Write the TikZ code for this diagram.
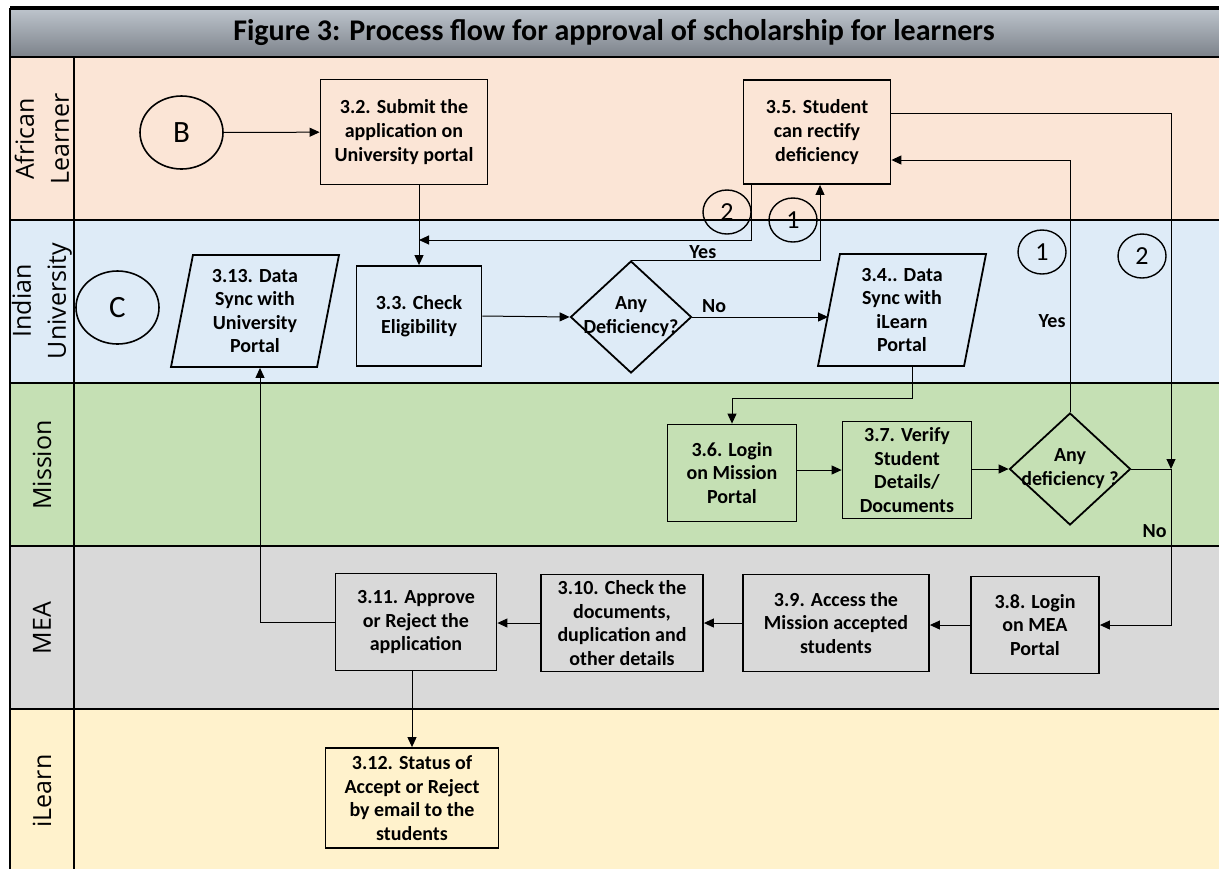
\documentclass[tikz,border=0pt]{standalone}
\usepackage{fontspec}
\setmainfont{Carlito}
\newfontfamily\lanefont{Open Sans}
\usetikzlibrary{shapes.geometric,arrows.meta,calc}

\definecolor{learner}{RGB}{251,229,214}
\definecolor{univ}{RGB}{222,235,247}
\definecolor{mission}{RGB}{197,224,180}
\definecolor{mea}{RGB}{217,217,217}
\definecolor{ilearn}{RGB}{255,242,204}
\definecolor{titletop}{RGB}{190,197,205}
\definecolor{titlebot}{RGB}{124,130,138}

% text of a decision, kept from widening the diamond
\newcommand{\dtext}[1]{\makebox[0pt]{\raisebox{6pt}{\begin{tabular}{@{}c@{}}#1\end{tabular}}}}

\begin{document}
\begin{tikzpicture}[x=0.5pt, y=-0.5pt, >={Triangle[length=5pt,width=4.5pt]},
        box/.style={draw, line width=0.9pt, align=center, inner sep=1.5pt,
            font=\fontsize{10}{11.8}\selectfont\bfseries},
        data/.style={box, trapezium, trapezium left angle=76, trapezium right angle=104,
            trapezium stretches body, minimum height=56pt, minimum width=84pt, inner sep=1pt},
        dec/.style={draw, diamond, line width=0.9pt, minimum width=60.5pt, minimum height=56pt,
            inner sep=0pt, font=\fontsize{10}{11.8}\selectfont\bfseries},
        offpage/.style={draw, ellipse, line width=0.8pt, minimum width=41.5pt, minimum height=36.5pt,
            inner sep=0pt, font=\fontsize{15.5}{15.5}\selectfont},
        onpage/.style={draw, ellipse, line width=0.7pt, minimum width=24pt, minimum height=22pt,
            inner sep=0pt, font=\fontsize{13}{13}\selectfont},
        lane/.style={rotate=90, align=center, font=\lanefont\fontsize{12.5}{17.5}\selectfont},
        tag/.style={font=\fontsize{10}{12}\selectfont\bfseries, inner sep=2pt},
        flow/.style={->, line width=0.5pt}]

        \useasboundingbox (0,0) rectangle (1219,869);
        \fill[white] (0,0) rectangle (1219,869);

        % lanes
        \shade[top color=titletop, bottom color=titlebot] (10,8) rectangle (1219,57);
        \fill[learner] (10,57) rectangle (1219,220);
        \fill[univ] (10,220) rectangle (1219,383);
        \fill[mission] (10,383) rectangle (1219,546);
        \fill[mea] (10,546) rectangle (1219,709);
        \fill[ilearn] (10,709) rectangle (1219,869);
        \foreach \y in {57,220,383,546,709}
            \draw[line width=1.2pt] (10,\y) -- (1219,\y);
        \draw[line width=1.6pt] (10,8) -- (1219,8);
        \draw[line width=1pt] (10,8) -- (10,869);
        \draw[line width=1pt] (74,57) -- (74,869);

        \node[font=\fontsize{15}{17}\selectfont\bfseries] (title) at (614,33)
            {Figure 3: Process flow for approval of scholarship for learners};

        \node[lane] (lAL) at (42,139) {African\\Learner};
        \node[lane] (lIU) at (42,301) {Indian\\University};
        \node[lane] (lMI) at (42,465) {Mission};
        \node[lane] (lME) at (42,628) {MEA};
        \node[lane] (lIL) at (42,791) {iLearn};

        % steps
        \node[offpage] (B) at (181.5,132.5) {B};
        \node[box, minimum width=83.5pt, minimum height=52.5pt] (S2) at (404,132)
            {3.2. Submit the\\application on\\University portal};
        \node[box, minimum width=73.5pt, minimum height=52pt] (S5) at (817,132)
            {3.5. Student\\can rectify\\deficiency};
        \node[onpage] (twoA) at (727,212) {2};
        \node[onpage] (oneA) at (793,220) {1};

        \node[offpage] (C) at (117.5,307.5) {C};
        \node[data] (S13) at (255,311) {3.13. Data\\Sync with\\University\\Portal};
        \node[box, minimum width=62.5pt, minimum height=50pt] (S3) at (419,316)
            {3.3. Check\\Eligibility};
        \node[dec] (D1) at (631,317) {\dtext{Any\\Deficiency?}};
        \node[data] (S4) at (902,310) {3.4.. Data\\Sync with\\iLearn\\Portal};
        \node[onpage] (oneB) at (1042,252) {1};
        \node[onpage] (twoB) at (1142,256) {2};

        \node[box, minimum width=64.5pt, minimum height=48.5pt] (S6) at (732,473)
            {3.6. Login\\on Mission\\Portal};
        \node[box, minimum width=64.5pt, minimum height=48.5pt] (S7) at (907,470)
            {3.7. Verify\\Student\\Details/\\Documents};
        \node[dec] (D2) at (1070,469) {\dtext{Any\\deficiency ?}};

        \node[box, minimum width=64pt, minimum height=48.5pt] (S8) at (1035,625)
            {3.8. Login\\on MEA\\Portal};
        \node[box, minimum width=93pt, minimum height=48.5pt] (S9) at (836,623)
            {3.9. Access the\\Mission accepted\\students};
        \node[box, minimum width=81pt, minimum height=48.5pt] (S10) at (622,623)
            {3.10. Check the\\documents,\\duplication and\\other details};
        \node[box, minimum width=80.5pt, minimum height=48.5pt] (S11) at (416,622)
            {3.11. Approve\\or Reject the\\application};
        \node[box, minimum width=86.5pt, minimum height=50pt] (S12) at (412,798)
            {3.12. Status of\\Accept or Reject\\by email to the\\students};

        % connectors
        \coordinate (m2) at (S3.north |- 0,240);
        \coordinate (jn) at (1171,469);

        \draw[flow] (B) -- (S2);
        \draw[flow] (S3.north |- S2.south) -- (S3.north);
        \draw[flow] ($(S5.south west)+(9,0)$) |- (m2);
        \draw[flow] (D1.north) -| node[tag, pos=0.19, above, inner sep=0.5pt] (yesA) {Yes} ($(S5.south)+(3,0)$);
        \draw[flow] (S3.east) -- (D1.west);
        \draw[flow] (D1.east) -- node[tag, pos=0.16, above] (noA) {No} (D1.east -| S4.west);
        \draw[flow] ($(S4.south)+(10,0)$) -- ++(0,32) -| (S6.north);
        \draw[flow] (S6.east |- S7) -- (S7.west);
        \draw[flow] (S7.east |- D2) -- (D2.west);
        \draw[flow] (D2.north) |- node[tag, pos=0.18, left] (yesB) {Yes} ($(S5.east)+(0,28)$);
        \draw[line width=0.5pt] (D2.east) -- (jn);
        \draw[flow] ($(S5.east)+(0,-19)$) -| (jn);
        \draw[flow] (jn) |- node[tag, pos=0.2, left] (noB) {No} (S8.east);
        \draw[flow] (S8.west) -- (S8.west -| S9.east);
        \draw[flow] (S9.west) -- (S9.west -| S10.east);
        \draw[flow] (S10.west) -- (S10.west -| S11.east);
        \draw[flow] (S11.west) -| ($(S13.south)+(5,0)$);
        \draw[flow] (S11.south -| S12) -- (S12.north);

\end{tikzpicture}
\end{document}
